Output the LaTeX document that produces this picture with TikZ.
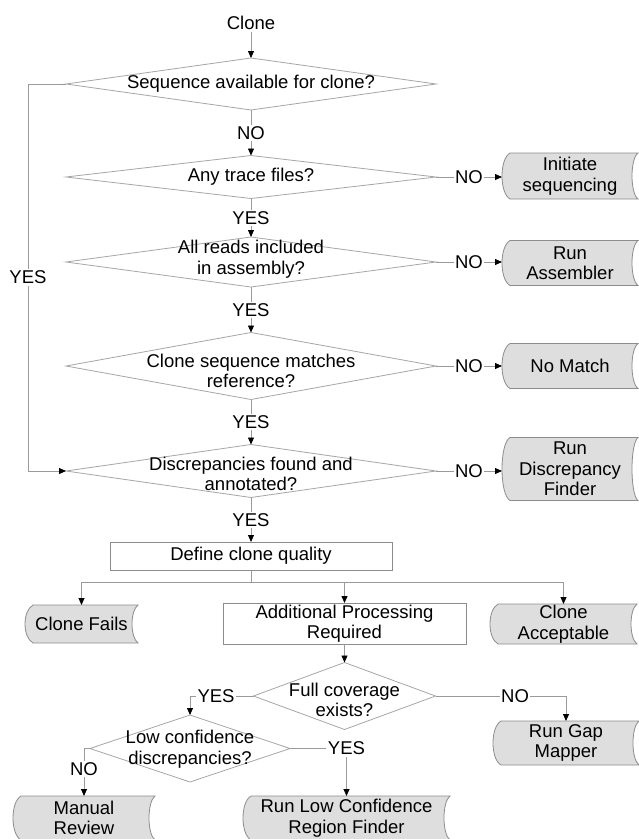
\documentclass[tikz,border=0pt]{standalone}
\usepackage{fontspec}
\setmainfont{Liberation Sans}
\usetikzlibrary{shapes.geometric,arrows.meta,calc}
\pgfdeclarelayer{background}
\pgfsetlayers{background,main}
\definecolor{lncol}{HTML}{9A9A9A}
\definecolor{dcol}{HTML}{A6A6A6}
\definecolor{boxfill}{HTML}{DEDEDE}
\definecolor{boxline}{HTML}{8C8C8C}
\newcommand\storedshape[1]{%
\begin{pgfonlayer}{background}%
\filldraw[draw=boxline,fill=boxfill,line width=0.8pt]
 ([xshift=8pt]#1.north west) .. controls ([xshift=-2.67pt,yshift=-6pt]#1.north west) and ([xshift=-2.67pt,yshift=6pt]#1.south west) .. ([xshift=8pt]#1.south west)
 -- (#1.south east) .. controls ([xshift=-8pt,yshift=6pt]#1.south east) and ([xshift=-8pt,yshift=-6pt]#1.north east) .. (#1.north east) -- cycle;
\end{pgfonlayer}}
\begin{document}
\begin{tikzpicture}[x=1pt,y=-1pt,
  font=\fontsize{18.5}{20.5}\selectfont,
  dia/.style={diamond, draw=dcol, line width=0.8pt, inner sep=0pt, outer sep=0pt, minimum width=370pt},
  dtxt/.style={align=center, inner sep=0pt},
  rbox/.style={draw=boxline, fill=white, line width=0.8pt, inner sep=0pt, outer sep=0pt, align=center},
  store/.style={inner sep=0pt, outer sep=0pt, align=center},
  conn/.style={draw=lncol, line width=0.8pt, -{Triangle[length=7pt,width=6pt,color=black]}},
  plain/.style={draw=lncol, line width=0.8pt},
  lbl/.style={fill=white, inner sep=1.5pt}]
\useasboundingbox (0,0) rectangle (639,839);
\begin{pgfonlayer}{background}
\fill[white] (0,0) rectangle (639,839);
\end{pgfonlayer}

% start
\node[inner sep=2pt] (clone) at (251,23) {Clone};

% decisions main column
\node[dia, minimum height=52pt] (d1) at (251,84) {};
\node[dtxt] (d1t) at (d1) {Sequence available for clone?};
\node[dia, minimum height=43pt] (d2) at (251,177) {};
\node[dtxt] (d2t) at (d2) {Any trace files?};
\node[dia, minimum height=50pt] (d3) at (251,262) {};
\node[dtxt] (d3t) at (251,259) {All reads included\\in assembly?};
\node[dia, minimum height=67pt] (d4) at (251,366) {};
\node[dtxt] (d4t) at (251,371) {Clone sequence matches\\reference?};
\node[dia, minimum height=53pt] (d5) at (251,471) {};
\node[dtxt] (d5t) at (251,474) {Discrepancies found and\\annotated?};

% right column stored boxes
\node[store, minimum width=136pt, minimum height=46pt] (is) at (570,176) {Initiate\\sequencing};
\node[store, minimum width=136pt, minimum height=45pt] (ra) at (570,263) {Run\\Assembler};
\node[store, minimum width=136pt, minimum height=45pt] (nm) at (570,366) {No Match};
\node[store, minimum width=136pt, minimum height=63pt] (rd) at (570,469) {Run\\Discrepancy\\Finder};

% quality
\node[rbox, minimum width=282pt, minimum height=28pt] (define) at (251,556) {Define clone quality};
\coordinate (br) at (251,582);
\node[store, minimum width=113pt, minimum height=38pt] (cf) at (81.5,624) {Clone Fails};
\node[rbox, minimum width=243pt, minimum height=41pt] (ap) at (344.5,623.5) {Additional Processing\\Required};
\node[store, minimum width=147pt, minimum height=40pt] (ca) at (563.5,624) {Clone\\Acceptable};

% lower decisions
\node[dia, minimum width=182pt, minimum height=67pt] (fc) at (344.5,696) {};
\node[dtxt] (fct) at (344.5,700) {Full coverage\\exists?};
\node[dia, minimum width=200pt, minimum height=67pt] (lc) at (190,748.5) {};
\node[dtxt] (lct) at (190,749) {Low confidence\\discrepancies?};

\node[store, minimum width=146pt, minimum height=44pt] (gm) at (566,743) {Run Gap\\Mapper};
\node[store, minimum width=142pt, minimum height=44pt] (mr) at (84,818) {Manual\\Review};
\node[store, minimum width=207pt, minimum height=44pt] (rl) at (346.5,818) {Run Low Confidence\\Region Finder};

\storedshape{is}
\storedshape{ra}
\storedshape{nm}
\storedshape{rd}
\storedshape{cf}
\storedshape{ca}
\storedshape{gm}
\storedshape{mr}
\storedshape{rl}

% connectors main column
\draw[conn] (clone.south) -- (d1.north);
\draw[conn] (d1.south) -- node[lbl]{NO} (d2.north);
\draw[conn] (d2.south) -- node[lbl]{YES} (d3.north);
\draw[conn] (d3.south) -- node[lbl]{YES} (d4.north);
\draw[conn] (d4.south) -- node[lbl]{YES} (d5.north);
\draw[conn] (d5.south) -- node[lbl]{YES} (define.north);

% right NO branches
\draw[conn] (d2.east) -- node[lbl]{NO} (d2.east -| is.west);
\draw[conn] (d3.east) -- node[lbl]{NO} (d3.east -| ra.west);
\draw[conn] (d4.east) -- node[lbl]{NO} (d4.east -| nm.west);
\draw[conn] (d5.east) -- node[lbl]{NO} (d5.east -| rd.west);

% left YES loop
\coordinate (lp) at (28,0);
\draw[conn] (d1.west) -- (d1.west -| lp) -- node[lbl]{YES} (d5.west -| lp) -- (d5.west);

% quality split
\draw[plain] (define.south) -- (br);
\draw[conn] (br) -| (cf.north);
\draw[conn] (br) -| (ap.north);
\draw[conn] (br) -| (ca.north);

% lower
\draw[conn] (ap.south) -- (fc.north);
\draw[conn] (fc.west) -| node[lbl,pos=0.295]{YES} (lc.north);
\draw[conn] (fc.east) -| node[lbl,pos=0.305]{NO} (gm.north);
\draw[conn] (lc.east) -| node[lbl,pos=0.5]{YES} (rl.north);
\draw[conn] (lc.west) -| node[lbl,pos=0.72]{NO} (mr.north);
\end{tikzpicture}
\end{document}
